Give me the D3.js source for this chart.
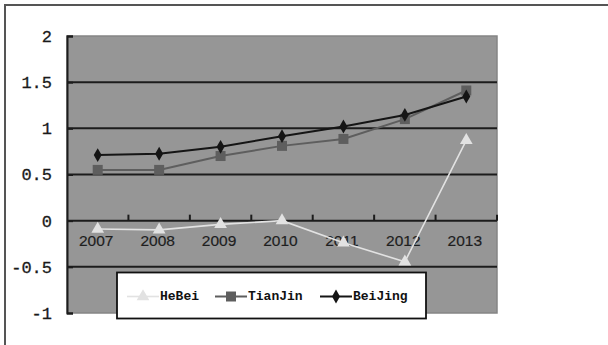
<!DOCTYPE html>
<html>
<head>
<meta charset="utf-8">
<script src="https://cdn.jsdelivr.net/npm/d3@7"></script>
<style>
  html, body { margin: 0; padding: 0; background: #fff; }
  svg { display: block; }
</style>
</head>
<body>
<svg id="chart" width="608" height="345"></svg>
<script>
const years = ["2007", "2008", "2009", "2010", "2011", "2012", "2013"];
const hebei = [-0.09, -0.10, -0.04, 0.00, -0.24, -0.445, 0.87];
const tianjin = [0.55, 0.55, 0.70, 0.81, 0.885, 1.10, 1.41];
const beijing = [0.71, 0.725, 0.80, 0.915, 1.02, 1.145, 1.345];
const yTickValues = [-1, -0.5, 0, 0.5, 1, 1.5, 2];
const yTickLabels = ["-1", "-0.5", "0", "0.5", "1", "1.5", "2"];
const seriesNames = ["HeBei", "TianJin", "BeiJing"];

const svg = d3.select("#chart");
const L = 67, R = 497, T = 36, B = 313;

const x = d3.scaleBand().domain(years).range([L, R]).padding(0);
const y = d3.scaleLinear().domain([-1, 2]).range([B, T]);

// outer frame
svg.append("rect").attr("x", 5).attr("y", 5).attr("width", 640).attr("height", 400)
  .attr("fill", "#fff").attr("stroke", "#555").attr("stroke-width", 2);

// plot area
svg.append("rect").attr("x", L).attr("y", T).attr("width", R - L).attr("height", B - T)
  .attr("fill", "#969696").attr("stroke", "#858585").attr("stroke-width", 1.5);

// gridlines
const gridVals = yTickValues.filter(v => v > -1 && v < 2);
svg.append("g").selectAll("line").data(gridVals).join("line")
  .attr("x1", L).attr("x2", R)
  .attr("y1", d => y(d)).attr("y2", d => y(d))
  .attr("stroke", "#1c1c1c").attr("stroke-width", 2);

// y axis
const yAxis = d3.axisLeft(y).tickValues(yTickValues)
  .tickFormat((d, i) => yTickLabels[i]).tickSize(-6).tickPadding(15);
const gy = svg.append("g").attr("transform", `translate(${L},0)`).call(yAxis);
gy.select(".domain").attr("stroke", "#1c1c1c").attr("stroke-width", 2);
gy.selectAll(".tick line").attr("stroke", "#1c1c1c").attr("stroke-width", 2);
gy.selectAll(".tick text")
  .attr("font-family", "'Liberation Mono', 'DejaVu Sans Mono', monospace")
  .attr("font-size", 17).attr("fill", "#1a1a1a")
  .attr("stroke", "#1a1a1a").attr("stroke-width", 0.3);

// x axis on zero line: ticks going up at category boundaries
const bounds = years.map(d => x(d)).concat([R]).slice(1);
svg.append("g").selectAll("line").data(bounds).join("line")
  .attr("x1", d => d).attr("x2", d => d)
  .attr("y1", y(0)).attr("y2", y(0) - 6)
  .attr("stroke", "#1c1c1c").attr("stroke-width", 2);

svg.append("g").selectAll("text").data(years).join("text")
  .attr("x", d => x(d) + x.bandwidth() / 2 - 1.5)
  .attr("y", y(0) + 21)
  .attr("text-anchor", "middle")
  .attr("dominant-baseline", "middle")
  .attr("font-family", "'Liberation Sans', Arial, sans-serif")
  .attr("font-size", 15.5).attr("fill", "#1e1e1e")
  .attr("stroke", "#1e1e1e").attr("stroke-width", 0.2)
  .text(d => d);

const cx = d => x(d) + x.bandwidth() / 2;
const line = d3.line().x(d => cx(d.year)).y(d => y(d.v));
const toPts = arr => years.map((yr, i) => ({ year: yr, v: arr[i] }));

const styles = {
  HeBei: { color: "#e2e2e2", width: 1.6, symbol: d3.symbolTriangle, size: 70 },
  TianJin: { color: "#5e5e5e", width: 2, symbol: d3.symbolSquare, size: 100 },
  BeiJing: { color: "#151515", width: 2, symbol: d3.symbolDiamond, size: 55 }
};
const dataMap = { HeBei: hebei, TianJin: tianjin, BeiJing: beijing };

["TianJin", "BeiJing", "HeBei"].forEach(name => {
  const s = styles[name];
  const pts = toPts(dataMap[name]);
  svg.append("path").datum(pts).attr("d", line)
    .attr("fill", "none").attr("stroke", s.color).attr("stroke-width", s.width);
  svg.append("g").selectAll("path").data(pts).join("path")
    .attr("d", d3.symbol().type(s.symbol).size(s.size))
    .attr("transform", d => `translate(${cx(d.year)},${y(d.v)})`)
    .attr("fill", s.color);
});

// legend
const lg = svg.append("g");
lg.append("rect").attr("x", 117).attr("y", 272.5).attr("width", 309).attr("height", 46)
  .attr("fill", "#fff").attr("stroke", "#111").attr("stroke-width", 1.8);
const legendX = [127, 215, 320];
seriesNames.forEach((name, i) => {
  const s = styles[name];
  const x0 = legendX[i], ly = 296.5;
  lg.append("line").attr("x1", x0).attr("x2", x0 + 32).attr("y1", ly).attr("y2", ly)
    .attr("stroke", s.color).attr("stroke-width", s.width);
  lg.append("path").attr("d", d3.symbol().type(s.symbol).size(s.size)())
    .attr("transform", `translate(${x0 + 16},${ly})`).attr("fill", s.color);
  lg.append("text").attr("x", x0 + 33).attr("y", ly)
    .attr("dominant-baseline", "middle")
    .attr("font-family", "'Liberation Mono', 'DejaVu Sans Mono', monospace")
    .attr("font-weight", "bold").attr("font-size", 13).attr("fill", "#111")
    .text(name);
});
</script>
</body>
</html>
